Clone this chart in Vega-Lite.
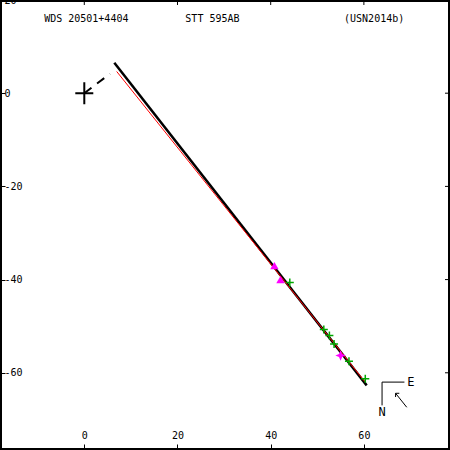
{
  "$schema": "https://vega.github.io/schema/vega-lite/v6.json",
  "width": 450,
  "height": 450,
  "autosize": {"type": "none"},
  "padding": 0,
  "background": "white",
  "config": {
    "view": {"stroke": "black", "strokeWidth": 4},
    "axis": {"domain": false, "grid": false, "title": null, "tickColor": "black", "tickWidth": 1, "labelColor": "black", "labelFont": "DejaVu Sans Mono", "labelFontSize": 10, "labelFlush": false, "labelOverlap": false}
  },
  "datasets": {
    "orbit": [{"x": 6.44, "y": 6.52}, {"x": 60.6, "y": -62.7}],
    "orbit2": [{"x": 6.95, "y": 4.66}, {"x": 60.2, "y": -61.9}],
    "nodes": [{"x": 0, "y": 0}, {"x": 5.5, "y": 4.16}],
    "primary": [{"x": 0, "y": 0}],
    "micro": [{"x": 44.1, "y": -40.6}, {"x": 51.4, "y": -50.7}, {"x": 52.6, "y": -52.0}, {"x": 53.6, "y": -53.8}, {"x": 56.8, "y": -57.5}, {"x": 60.3, "y": -61.3}],
    "tri": [{"x": 40.8, "y": -37.0}, {"x": 42.1, "y": -40.0}],
    "star": [{"x": 55.0, "y": -56.3}],
    "topTicks": [{"x": 0, "y": 20, "y2": 18.93}, {"x": 20, "y": 20, "y2": 18.93}, {"x": 40, "y": 20, "y2": 18.93}, {"x": 60, "y": 20, "y2": 18.93}],
    "rightTicks": [{"y": 20, "x": 78.48, "x2": 77.41}, {"y": 0, "x": 78.48, "x2": 77.41}, {"y": -20, "x": 78.48, "x2": 77.41}, {"y": -40, "x": 78.48, "x2": 77.41}, {"y": -60, "x": 78.48, "x2": 77.41}],
    "compass": [
      {"seg": "a", "ord": 1, "x": 68.7, "y": -62.0},
      {"seg": "a", "ord": 2, "x": 63.9, "y": -62.0},
      {"seg": "a", "ord": 3, "x": 63.9, "y": -67.0},
      {"seg": "b", "ord": 1, "x": 69.2, "y": -67.4},
      {"seg": "b", "ord": 2, "x": 66.8, "y": -64.4},
      {"seg": "c", "ord": 1, "x": 67.6, "y": -64.4},
      {"seg": "c", "ord": 2, "x": 66.8, "y": -64.4},
      {"seg": "c", "ord": 3, "x": 66.8, "y": -65.2}
    ],
    "compassE": [{"x": 69.3, "y": -62.0, "label": "E"}],
    "compassN": [{"x": 63.9, "y": -68.5, "label": "N"}],
    "titles": [
      {"x": 0.43, "y": 16.0, "label": "WDS 20501+4404"},
      {"x": 27.5, "y": 16.0, "label": "STT 595AB"},
      {"x": 62.2, "y": 16.0, "label": "(USN2014b)"}
    ]
  },
  "encoding": {
    "x": {"field": "x", "type": "quantitative", "scale": {"domain": [-18.09, 78.48], "nice": false, "zero": false}, "axis": {"orient": "bottom", "values": [0, 20, 40, 60], "tickSize": -6, "labelPadding": -9, "labelBaseline": "middle", "labelAlign": "center", "labelExpr": "'' + datum.value"}},
    "y": {"field": "y", "type": "quantitative", "scale": {"domain": [-76.57, 20], "nice": false, "zero": false}, "axis": {"orient": "left", "values": [20, 0, -20, -40, -60], "tickSize": -5, "labelPadding": 1, "labelAlign": "left", "labelBaseline": "middle", "labelExpr": "'' + datum.value"}}
  },
  "layer": [
    {
      "data": {"name": "orbit"},
      "mark": {"type": "line", "color": "black", "strokeWidth": 2.5}
    },
    {
      "data": {"name": "orbit2"},
      "mark": {"type": "line", "color": "#ff0000", "strokeWidth": 1}
    },
    {
      "data": {"name": "nodes"},
      "mark": {"type": "line", "color": "black", "strokeWidth": 2, "strokeDash": [9, 7]}
    },
    {
      "data": {"name": "topTicks"},
      "mark": {"type": "rule", "color": "black", "strokeWidth": 1},
      "encoding": {"y2": {"field": "y2"}}
    },
    {
      "data": {"name": "rightTicks"},
      "mark": {"type": "rule", "color": "black", "strokeWidth": 1},
      "encoding": {"x2": {"field": "x2"}}
    },
    {
      "data": {"name": "primary"},
      "mark": {"type": "point", "shape": "M-0.9,0L0.9,0M0,-1.1L0,1.1", "size": 400, "filled": false, "stroke": "black", "strokeWidth": 2, "opacity": 1}
    },
    {
      "data": {"name": "micro"},
      "mark": {"type": "point", "shape": "M-1,0L1,0M0,-1L0,1", "size": 64, "filled": false, "stroke": "#00a800", "strokeWidth": 1.5, "opacity": 1}
    },
    {
      "data": {"name": "tri"},
      "mark": {"type": "point", "shape": "triangle-up", "size": 70, "filled": true, "color": "#ff00ff", "opacity": 1}
    },
    {
      "data": {"name": "star"},
      "mark": {"type": "point", "shape": "M0,-1L0.3,-0.3L1,0L0.3,0.3L0,1L-0.3,0.3L-1,0L-0.3,-0.3Z", "size": 110, "filled": true, "color": "#ff00ff", "opacity": 1}
    },
    {
      "data": {"name": "compass"},
      "mark": {"type": "line", "color": "black", "strokeWidth": 1},
      "encoding": {
        "detail": {"field": "seg"},
        "order": {"field": "ord"}
      }
    },
    {
      "data": {"name": "compassE"},
      "mark": {"type": "text", "font": "DejaVu Sans Mono", "fontSize": 12, "align": "left", "baseline": "middle", "color": "black"},
      "encoding": {"text": {"field": "label"}}
    },
    {
      "data": {"name": "compassN"},
      "mark": {"type": "text", "font": "DejaVu Sans Mono", "fontSize": 12, "align": "center", "baseline": "middle", "color": "black"},
      "encoding": {"text": {"field": "label"}}
    },
    {
      "data": {"name": "titles"},
      "mark": {"type": "text", "font": "DejaVu Sans Mono", "fontSize": 10, "align": "center", "baseline": "middle", "color": "black"},
      "encoding": {"text": {"field": "label"}}
    }
  ]
}
